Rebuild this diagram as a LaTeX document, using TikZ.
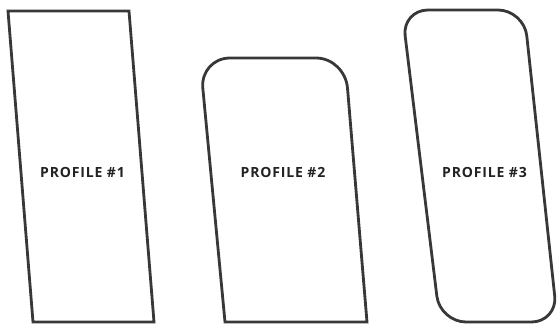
\documentclass[tikz,border=0pt]{standalone}
\usepackage{fontspec}
\setmainfont{Open Sans}
\usepackage{xcolor}
\usepackage{tikz}
\usetikzlibrary{positioning}
\definecolor{outline}{HTML}{383838}
\definecolor{labeltext}{HTML}{222222}

\begin{document}
\begin{tikzpicture}[x=1pt, y=-1pt,
		profile/.style={draw=outline, line width=2.8pt, line join=miter},
		plabel/.style={font=\fontsize{14}{16}\selectfont\bfseries\addfontfeature{LetterSpace=6}, text=labeltext}]
	\useasboundingbox (0,0) rectangle (559,324);
	% Profile 1: plain slanted box
	\draw[profile] (8,11) -- (129,11) -- (154,322) -- (33,322) -- cycle;
	\node[plabel] (p1) at (82.5,172) {PROFILE \#1};
	% Profile 2: rounded top, sharp bottom
	\draw[profile] (225,322) -- (202.8,88) .. controls (201.3,71.5) and (213.5,58) .. (230,58)
		-- (316,58) .. controls (332.5,58) and (346,71.5) .. (347.5,88) -- (367,322) -- cycle;
	\node[plabel] (p2) at (283,172) {PROFILE \#2};
	% Profile 3: all corners rounded
	\draw[profile, rounded corners=26pt] (402,10) -- (524,10) -- (557.5,322) -- (440,322) -- cycle;
	\node[plabel] (p3) at (484.5,172) {PROFILE \#3};
\end{tikzpicture}
\end{document}
